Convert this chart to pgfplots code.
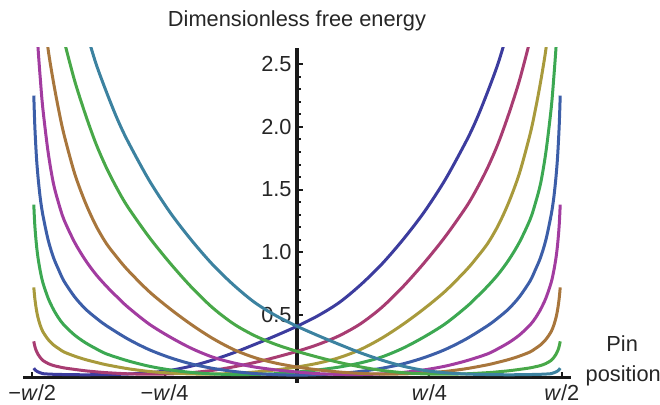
\documentclass[border=0pt]{standalone}
\usepackage{fontspec}
\setmainfont{Liberation Sans}
\usepackage{pgfplots}
\pgfplotsset{compat=1.18}

\definecolor{cA}{HTML}{3C3C9E}
\definecolor{cB}{HTML}{A83C72}
\definecolor{cC}{HTML}{A89A3C}
\definecolor{cD}{HTML}{3CA852}
\definecolor{cE}{HTML}{3C5EA8}
\definecolor{cF}{HTML}{A23CA0}
\definecolor{cG}{HTML}{A8763C}
\definecolor{cH}{HTML}{48A848}
\definecolor{cI}{HTML}{3C82A0}

\begin{document}
\begin{tikzpicture}
\begin{axis}[
    at={(11.6pt,11.15pt)}, anchor=south west,
    scale only axis, width=273.8pt, height=167.4pt,
    xmin=-0.517, xmax=0.517, ymin=-0.04, ymax=2.63,
    axis lines=middle,
    axis line style={line width=1.6pt, -, black!90},
    xtick={-0.5,-0.25,0.25,0.5},
    xticklabels={−\textit{w}/2, −\textit{w}/4, \textit{w}/4, \textit{w}/2},
    ytick={0.5,1,1.5,2,2.5},
    yticklabels={0.5,1.0,1.5,2.0,2.5},
    minor y tick num=4,
    tick align=inside,
    major tick length=3pt, minor tick length=1.8pt,
    tick style={black!90, line width=1pt},
    every tick label/.append style={font=\fontsize{10.9}{12}\selectfont, text=black!85},
    xticklabel style={anchor=north, inner sep=0pt, yshift=-3.5pt},
    yticklabel style={anchor=east, inner sep=0pt, xshift=-2.5pt},
    clip mode=individual,
    every axis plot/.append style={line width=1.5pt, smooth},
]
% curve 1
\addplot[cA] coordinates {
(-0.497,0.076)(-0.495,0.064)(-0.492,0.053)(-0.489,0.046)(-0.485,0.039)(-0.48,0.032)
(-0.47,0.029)(-0.46,0.027)(-0.45,0.026)(-0.44,0.025)(-0.42,0.024)(-0.40,0.023)
(-0.36,0.025)(-0.32,0.029)(-0.28,0.039)(-0.24,0.058)(-0.20,0.092)(-0.16,0.14)
(-0.12,0.198)(-0.08,0.265)(-0.04,0.335)(0,0.41)(0.04,0.495)(0.08,0.60)(0.12,0.74)
(0.16,0.905)(0.20,1.10)(0.24,1.32)(0.28,1.58)(0.32,1.89)(0.34,2.07)(0.36,2.28)
(0.38,2.51)(0.40,2.79)};
% curve 2
\addplot[cB] coordinates {
(-0.497,0.29)(-0.495,0.249)(-0.492,0.211)(-0.489,0.186)(-0.485,0.161)(-0.48,0.138)
(-0.47,0.113)(-0.46,0.097)(-0.45,0.087)(-0.44,0.078)(-0.42,0.066)(-0.40,0.055)
(-0.38,0.047)(-0.36,0.04)(-0.32,0.031)(-0.28,0.028)(-0.24,0.03)(-0.20,0.04)
(-0.16,0.058)(-0.12,0.086)(-0.08,0.121)(-0.04,0.163)(0,0.21)(0.04,0.265)
(0.08,0.335)(0.12,0.43)(0.16,0.56)(0.20,0.725)(0.24,0.915)(0.28,1.125)(0.32,1.365)
(0.34,1.51)(0.36,1.675)(0.38,1.87)(0.40,2.105)(0.42,2.37)(0.44,2.69)};
% curve 3
\addplot[cC] coordinates {
(-0.497,0.72)(-0.495,0.63)(-0.492,0.54)(-0.489,0.478)(-0.485,0.42)(-0.48,0.368)
(-0.47,0.305)(-0.46,0.262)(-0.45,0.232)(-0.44,0.205)(-0.42,0.172)(-0.40,0.145)
(-0.38,0.123)(-0.36,0.103)(-0.32,0.072)(-0.28,0.05)(-0.24,0.037)(-0.20,0.03)
(-0.16,0.029)(-0.12,0.034)(-0.08,0.045)(-0.04,0.062)(0,0.085)(0.04,0.116)
(0.08,0.16)(0.12,0.225)(0.16,0.315)(0.20,0.425)(0.24,0.55)(0.28,0.69)(0.32,0.86)
(0.34,0.96)(0.36,1.07)(0.38,1.215)(0.40,1.40)(0.42,1.63)(0.44,1.94)(0.45,2.135)
(0.46,2.36)(0.47,2.62)(0.475,2.83)};
% curve 4
\addplot[cD] coordinates {
(-0.497,1.38)(-0.495,1.21)(-0.492,1.06)(-0.489,0.955)(-0.485,0.855)(-0.48,0.76)
(-0.47,0.635)(-0.46,0.545)(-0.45,0.475)(-0.44,0.42)(-0.42,0.34)(-0.40,0.28)
(-0.38,0.232)(-0.36,0.19)(-0.32,0.135)(-0.28,0.092)(-0.24,0.062)(-0.20,0.042)
(-0.16,0.03)(-0.12,0.025)(-0.08,0.026)(-0.04,0.032)(0,0.045)(0.04,0.062)
(0.08,0.085)(0.12,0.118)(0.16,0.165)(0.20,0.235)(0.24,0.325)(0.28,0.43)(0.32,0.565)
(0.34,0.645)(0.36,0.73)(0.38,0.825)(0.40,0.94)(0.42,1.08)(0.44,1.26)(0.45,1.39)
(0.46,1.55)(0.47,1.80)(0.48,2.15)(0.485,2.40)(0.489,2.63)(0.492,2.85)};
% curve 5
\addplot[cE] coordinates {
(-0.497,2.25)(-0.495,2.00)(-0.492,1.76)(-0.489,1.60)(-0.485,1.44)(-0.48,1.30)
(-0.47,1.10)(-0.46,0.96)(-0.45,0.86)(-0.44,0.77)(-0.42,0.645)(-0.40,0.55)
(-0.38,0.478)(-0.36,0.415)(-0.32,0.31)(-0.28,0.225)(-0.24,0.16)(-0.20,0.11)
(-0.16,0.075)(-0.12,0.05)(-0.08,0.033)(-0.04,0.024)(0,0.02)(0.04,0.024)
(0.08,0.033)(0.12,0.05)(0.16,0.075)(0.20,0.11)(0.24,0.16)(0.28,0.225)(0.32,0.31)
(0.36,0.415)(0.38,0.478)(0.40,0.55)(0.42,0.645)(0.44,0.77)(0.45,0.86)(0.46,0.96)
(0.47,1.10)(0.48,1.30)(0.485,1.44)(0.489,1.60)(0.492,1.76)(0.495,2.00)(0.497,2.25)};
% curve 6
\addplot[cF] coordinates {
(-0.492,2.85)(-0.489,2.63)(-0.485,2.40)(-0.48,2.15)(-0.47,1.80)(-0.46,1.55)
(-0.45,1.39)(-0.44,1.26)(-0.42,1.08)(-0.40,0.94)(-0.38,0.825)(-0.36,0.73)
(-0.34,0.645)(-0.32,0.565)(-0.28,0.43)(-0.24,0.325)(-0.20,0.235)(-0.16,0.165)
(-0.12,0.118)(-0.08,0.085)(-0.04,0.062)(0,0.045)(0.04,0.032)(0.08,0.026)
(0.12,0.025)(0.16,0.03)(0.20,0.042)(0.24,0.062)(0.28,0.092)(0.32,0.135)(0.36,0.19)
(0.38,0.232)(0.40,0.28)(0.42,0.34)(0.44,0.42)(0.45,0.475)(0.46,0.545)(0.47,0.635)
(0.48,0.76)(0.485,0.855)(0.489,0.955)(0.492,1.06)(0.495,1.21)(0.497,1.38)};
% curve 7
\addplot[cG] coordinates {
(-0.475,2.83)(-0.47,2.62)(-0.46,2.36)(-0.45,2.135)(-0.44,1.94)(-0.42,1.63)
(-0.40,1.40)(-0.38,1.215)(-0.36,1.07)(-0.34,0.96)(-0.32,0.86)(-0.28,0.69)
(-0.24,0.55)(-0.20,0.425)(-0.16,0.315)(-0.12,0.225)(-0.08,0.16)(-0.04,0.116)
(0,0.085)(0.04,0.062)(0.08,0.045)(0.12,0.034)(0.16,0.029)(0.20,0.03)(0.24,0.037)
(0.28,0.05)(0.32,0.072)(0.36,0.103)(0.38,0.123)(0.40,0.145)(0.42,0.172)(0.44,0.205)
(0.45,0.232)(0.46,0.262)(0.47,0.305)(0.48,0.368)(0.485,0.42)(0.489,0.478)
(0.492,0.54)(0.495,0.63)(0.497,0.72)};
% curve 8
\addplot[cH] coordinates {
(-0.44,2.69)(-0.42,2.37)(-0.40,2.105)(-0.38,1.87)(-0.36,1.675)(-0.34,1.51)
(-0.32,1.365)(-0.28,1.125)(-0.24,0.915)(-0.20,0.725)(-0.16,0.56)(-0.12,0.43)
(-0.08,0.335)(-0.04,0.265)(0,0.21)(0.04,0.163)(0.08,0.121)(0.12,0.086)(0.16,0.058)
(0.20,0.04)(0.24,0.03)(0.28,0.028)(0.32,0.031)(0.36,0.04)(0.38,0.047)(0.40,0.055)
(0.42,0.066)(0.44,0.078)(0.45,0.087)(0.46,0.097)(0.47,0.113)(0.48,0.138)(0.485,0.161)
(0.489,0.186)(0.492,0.211)(0.495,0.249)(0.497,0.29)};
% curve 9
\addplot[cI] coordinates {
(-0.40,2.79)(-0.38,2.51)(-0.36,2.28)(-0.34,2.07)(-0.32,1.89)(-0.28,1.58)
(-0.24,1.32)(-0.20,1.10)(-0.16,0.905)(-0.12,0.74)(-0.08,0.60)(-0.04,0.495)(0,0.41)
(0.04,0.335)(0.08,0.265)(0.12,0.198)(0.16,0.14)(0.20,0.092)(0.24,0.058)(0.28,0.039)
(0.32,0.029)(0.36,0.025)(0.40,0.023)(0.42,0.024)(0.44,0.025)(0.45,0.026)(0.46,0.027)
(0.47,0.029)(0.48,0.032)(0.485,0.039)(0.489,0.046)(0.492,0.053)(0.495,0.064)(0.497,0.076)};

\node[anchor=base, font=\fontsize{10.9}{12}\selectfont, text=black!85] at (axis cs:0,2.80) {Dimensionless free energy};
\node[anchor=base, font=\fontsize{10.9}{12}\selectfont, text=black!85] at (axis cs:0.614,0.207) {Pin};
\node[anchor=base, font=\fontsize{10.9}{12}\selectfont, text=black!85] at (axis cs:0.616,-0.032) {position};
\end{axis}
\pgfresetboundingbox
\path[use as bounding box] (0,0) rectangle (330pt,202.5pt);
\end{tikzpicture}
\end{document}
